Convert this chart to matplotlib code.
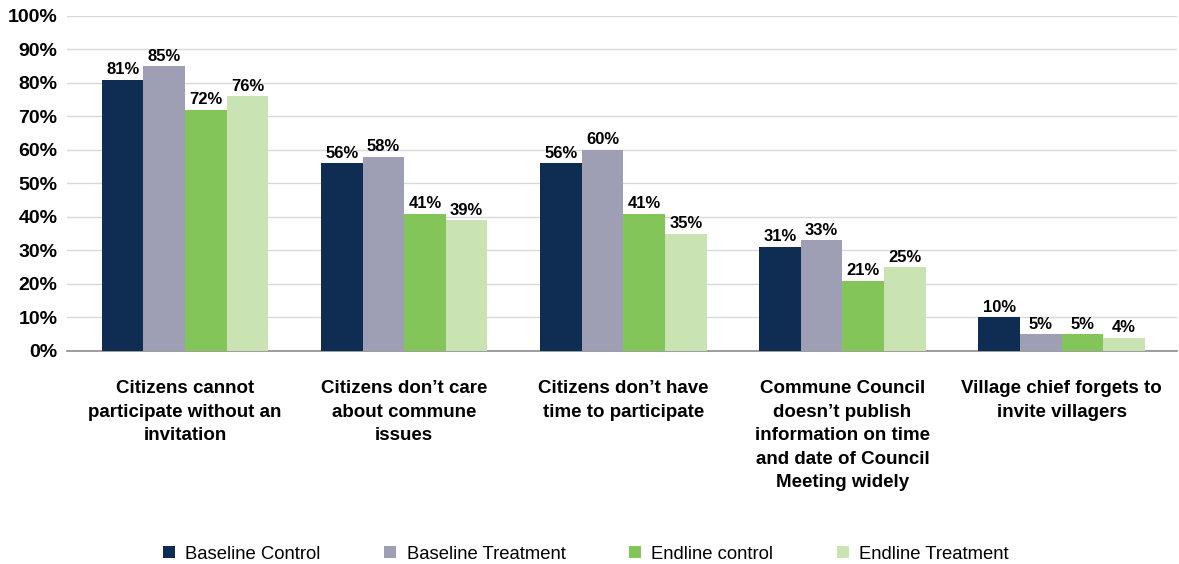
import numpy as np
import matplotlib.pyplot as plt
from matplotlib.ticker import PercentFormatter
from matplotlib import font_manager

# Reasons for not attending commune council meetings
categories = [
    "Citizens cannot\nparticipate without an\ninvitation",
    "Citizens don\u2019t care\nabout commune\nissues",
    "Citizens don\u2019t have\ntime to participate",
    "Commune Council\ndoesn\u2019t publish\ninformation on time\nand date of Council\nMeeting widely",
    "Village chief forgets to\ninvite villagers",
]
series = ["Baseline Control", "Baseline Treatment", "Endline control", "Endline Treatment"]
baseline_control = [81, 56, 56, 31, 10]
baseline_treatment = [85, 58, 60, 33, 5]
endline_control = [72, 41, 41, 21, 5]
endline_treatment = [76, 39, 35, 25, 4]

colors = ["#0f2d52", "#9e9fb5", "#84c55a", "#c9e3b3"]

plt.rcParams['font.family'] = ['Liberation Sans', 'DejaVu Sans']
names = {f.name for f in font_manager.fontManager.ttflist}
label_family = ['Liberation Sans Narrow', 'Liberation Sans'] if 'Liberation Sans Narrow' in names else ['Liberation Sans']

fig = plt.figure(figsize=(11.79, 5.64), dpi=100)
ax = fig.add_axes([0.057, 0.3777, 0.941, 0.594])

x = np.arange(len(categories))
width = 0.19
all_values = [baseline_control, baseline_treatment, endline_control, endline_treatment]
for i, (name, vals, c) in enumerate(zip(series, all_values, colors)):
    pos = x + (i - 1.5) * width
    bars = ax.bar(pos, vals, width, color=c, label=name, zorder=3)
    for b, v in zip(bars, vals):
        ax.text(b.get_x() + b.get_width() / 2, v + 0.8, f"{v}%",
                ha='center', va='bottom', fontsize=12, fontweight='bold',
                family=label_family)

ax.set_ylim(0, 100)
ax.set_xlim(-0.538, 4.525)
ax.set_yticks(np.arange(0, 101, 10))
ax.yaxis.set_major_formatter(PercentFormatter(decimals=0))
ax.grid(axis='y', color='#d9d9d9', linewidth=1, zorder=0)
ax.tick_params(axis='y', length=0, pad=7, labelsize=14)
for lab in ax.get_yticklabels():
    lab.set_fontweight('bold')

ax.set_xticks(x)
ax.set_xticklabels(categories, fontsize=13.5, fontweight='bold', linespacing=1.5, va='top')
ax.tick_params(axis='x', length=0, pad=21)

for s in ['top', 'right', 'left']:
    ax.spines[s].set_visible(False)
ax.spines['bottom'].set_color('#8c8c8c')
ax.spines['bottom'].set_linewidth(1.2)

fig.legend(loc='lower center', bbox_to_anchor=(0.497, -0.027), ncol=4, frameon=False,
           fontsize=13.3, handlelength=0.65, handleheight=0.65, handletextpad=0.55,
           columnspacing=3.45)

fig.savefig('out.png', dpi=100)
